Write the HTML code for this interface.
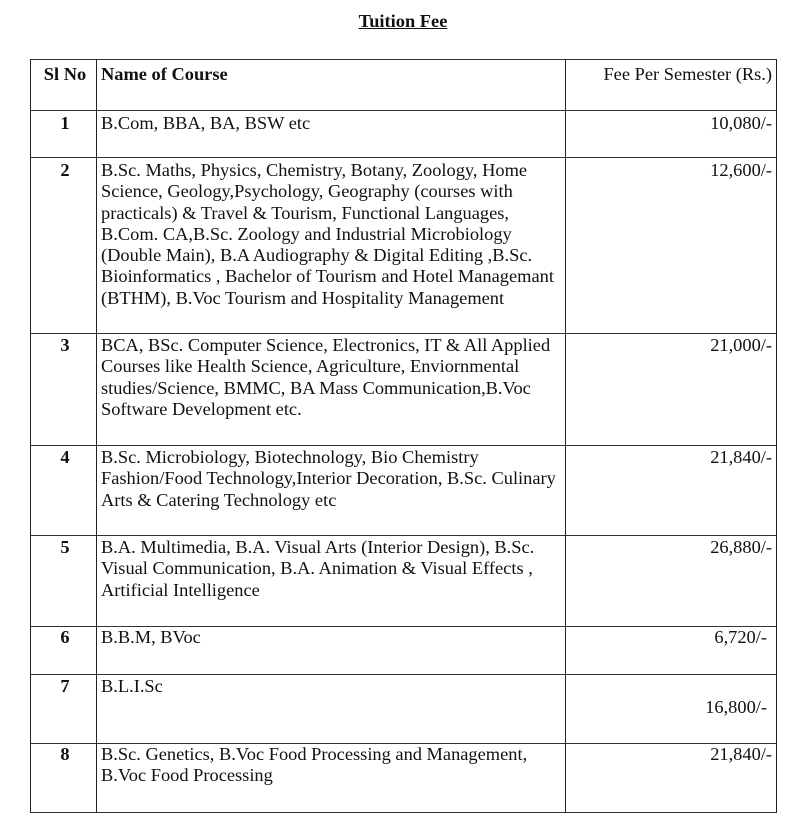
<!DOCTYPE html>
<html><head><meta charset="utf-8"><style>
body{margin:0;width:795px;height:830px;background:#fff;position:relative;font-family:"Liberation Serif",serif;font-size:18.4px;color:#111;}
.h{position:absolute;height:1.2px;background:#333;left:30px;width:747px}
.v{position:absolute;width:1.2px;background:#222;top:59px;height:754px}
.t{position:absolute;line-height:21.3px;white-space:nowrap}
.n{position:absolute;left:30px;width:70px;text-align:center;font-weight:bold;line-height:21.3px}
.f{position:absolute;right:23px;text-align:right;line-height:21.3px}
</style></head><body>
<div class="t" style="left:0;width:806px;text-align:center;top:11px;font-weight:bold;text-decoration:underline">Tuition Fee</div>
<div class="h" style="top:59px"></div>
<div class="h" style="top:110px"></div>
<div class="h" style="top:157px"></div>
<div class="h" style="top:333px"></div>
<div class="h" style="top:445px"></div>
<div class="h" style="top:535px"></div>
<div class="h" style="top:626px"></div>
<div class="h" style="top:674px"></div>
<div class="h" style="top:743px"></div>
<div class="h" style="top:812px"></div>
<div class="v" style="left:30px"></div>
<div class="v" style="left:96px"></div>
<div class="v" style="left:565px"></div>
<div class="v" style="left:776px"></div>

<div class="n" style="top:64px">Sl No</div>
<div class="t" style="left:101px;top:64px;font-weight:bold">Name of Course</div>
<div class="f" style="top:64px">Fee Per Semester (Rs.)</div>

<div class="n" style="top:113px">1</div>
<div class="t" style="left:101px;top:113px">B.Com, BBA, BA, BSW etc</div>
<div class="f" style="top:113px">10,080/-</div>

<div class="n" style="top:160px">2</div>
<div class="t" style="left:101px;top:160px">B.Sc. Maths, Physics, Chemistry, Botany, Zoology, Home<br>Science, Geology,Psychology, Geography (courses with<br>practicals) &amp; Travel &amp; Tourism, Functional Languages,<br>B.Com. CA,B.Sc. Zoology and Industrial Microbiology<br>(Double Main), B.A Audiography &amp; Digital Editing ,B.Sc.<br>Bioinformatics , Bachelor of Tourism and Hotel Managemant<br>(BTHM), B.Voc Tourism and Hospitality Management</div>
<div class="f" style="top:160px">12,600/-</div>

<div class="n" style="top:335px">3</div>
<div class="t" style="left:101px;top:335px">BCA, BSc. Computer Science, Electronics, IT &amp; All Applied<br>Courses like Health Science, Agriculture, Enviornmental<br>studies/Science, BMMC, BA Mass Communication,B.Voc<br>Software Development etc.</div>
<div class="f" style="top:335px">21,000/-</div>

<div class="n" style="top:447px">4</div>
<div class="t" style="left:101px;top:447px">B.Sc. Microbiology, Biotechnology, Bio Chemistry<br>Fashion/Food Technology,Interior Decoration, B.Sc. Culinary<br>Arts &amp; Catering Technology etc</div>
<div class="f" style="top:447px">21,840/-</div>

<div class="n" style="top:537px">5</div>
<div class="t" style="left:101px;top:537px">B.A. Multimedia, B.A. Visual Arts (Interior Design), B.Sc.<br>Visual Communication, B.A. Animation &amp; Visual Effects ,<br>Artificial Intelligence</div>
<div class="f" style="top:537px">26,880/-</div>

<div class="n" style="top:627px">6</div>
<div class="t" style="left:101px;top:627px">B.B.M, BVoc</div>
<div class="f" style="top:627px;right:28px">6,720/-</div>

<div class="n" style="top:676px">7</div>
<div class="t" style="left:101px;top:676px">B.L.I.Sc</div>
<div class="f" style="top:697px;right:28px">16,800/-</div>

<div class="n" style="top:744px">8</div>
<div class="t" style="left:101px;top:744px">B.Sc. Genetics, B.Voc Food Processing and Management,<br>B.Voc Food Processing</div>
<div class="f" style="top:744px">21,840/-</div>
</body></html>
